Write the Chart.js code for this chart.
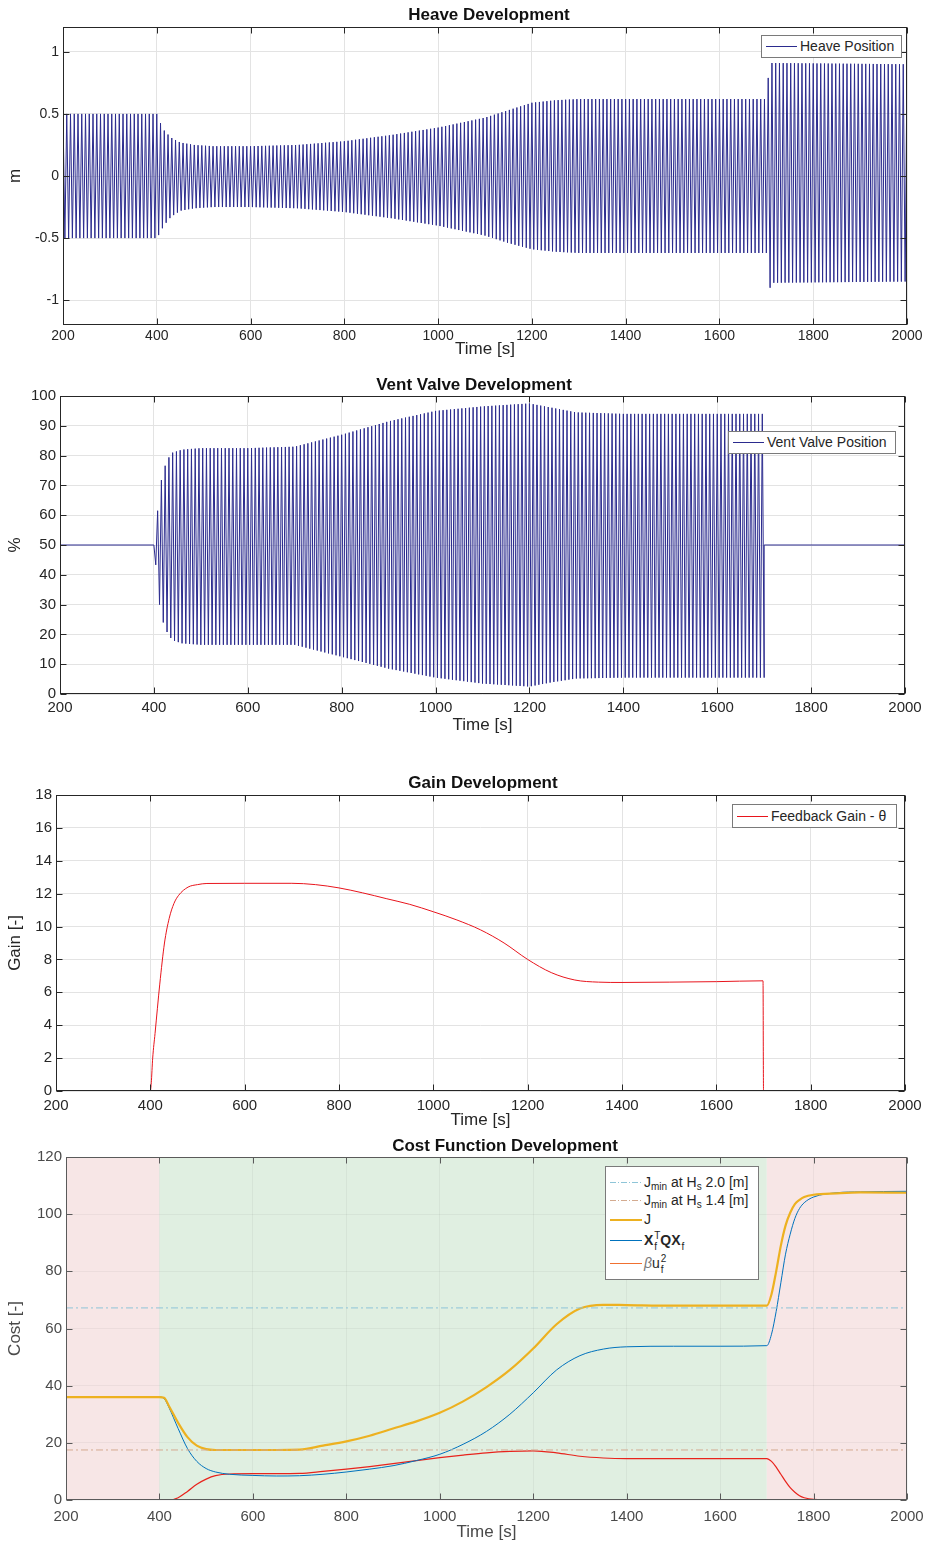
<!DOCTYPE html>
<html>
<head>
<meta charset="utf-8">
<script src="https://cdn.jsdelivr.net/npm/chart.js@4.4.1/dist/chart.umd.min.js"></script>
<style>
  body { margin: 0; background: #fff; width: 926px; height: 1545px; position: relative; overflow: hidden;
         font-family: "Liberation Sans", Arial, sans-serif; }
  canvas { position: absolute; left: 0; }
  .legend { position: absolute; background: #fff; border: 1px solid #7a7a7a; font-size: 14px; color: #262626; }
  .legend .row { position: absolute; left: 0; right: 0; height: 20px; }
  .legend .sample { position: absolute; top: 10px; height: 0; }
  .legend .dd { position: absolute; top: 10px; height: 1px; }
  .legend .txt { position: absolute; top: 1px; white-space: nowrap; line-height: 18px; }
  .legend sub.s { font-size: 10px; vertical-align: -3px; line-height: 0; }
  .ss { display: inline-block; position: relative; width: 7px; height: 0; }
  .ss .up { position: absolute; left: 1px; bottom: 4px; font-size: 10px; line-height: 10px; }
  .ss .dn { position: absolute; left: 1px; top: -3px; font-size: 10px; line-height: 10px; }
</style>
</head>
<body>
<canvas id="heave" width="926" height="360" style="top:0"></canvas>
<canvas id="vent" width="926" height="375" style="top:365px"></canvas>
<canvas id="gain" width="926" height="375" style="top:760px"></canvas>
<canvas id="cost" width="926" height="410" style="top:1135px"></canvas>

<div class="legend" style="left:761px;top:35px;width:139px;height:21px">
  <div class="row" style="top:0"><div class="sample" style="left:4px;width:31px;border-top:1px solid #2b2b8e"></div>
  <div class="txt" style="left:38px">Heave Position</div></div>
</div>
<div class="legend" style="left:728px;top:431px;width:166px;height:21px">
  <div class="row" style="top:0"><div class="sample" style="left:4px;width:31px;border-top:1px solid #2b2b8e"></div>
  <div class="txt" style="left:38px">Vent Valve Position</div></div>
</div>
<div class="legend" style="left:732px;top:804px;width:163px;height:22px">
  <div class="row" style="top:1px"><div class="sample" style="left:4px;width:31px;border-top:1px solid #e8141c"></div>
  <div class="txt" style="left:38px">Feedback Gain - θ</div></div>
</div>
<div class="legend" style="left:605px;top:1166px;width:152px;height:112px">
  <div class="row" style="top:5px"><div class="dd" style="left:4px;width:32px;background:repeating-linear-gradient(90deg,#8ec5d8 0 6px,transparent 6px 8px,#8ec5d8 8px 9px,transparent 9px 11px)"></div>
    <div class="txt" style="left:38px">J<sub class="s">min</sub> at H<sub class="s">s</sub> 2.0 [m]</div></div>
  <div class="row" style="top:23px"><div class="dd" style="left:4px;width:32px;background:repeating-linear-gradient(90deg,#d4ab90 0 6px,transparent 6px 8px,#d4ab90 8px 9px,transparent 9px 11px)"></div>
    <div class="txt" style="left:38px">J<sub class="s">min</sub> at H<sub class="s">s</sub> 1.4 [m]</div></div>
  <div class="row" style="top:42px"><div class="sample" style="left:4px;width:32px;border-top:2px solid #edb120"></div>
    <div class="txt" style="left:38px">J</div></div>
  <div class="row" style="top:63px"><div class="sample" style="left:4px;width:32px;border-top:1px solid #0072bd"></div>
    <div class="txt" style="left:38px"><b>X</b><span class="ss"><span class="up">T</span><span class="dn">f</span></span><b>QX</b><span class="ss"><span class="dn">f</span></span></div></div>
  <div class="row" style="top:86px"><div class="sample" style="left:4px;width:32px;border-top:1px solid #f07030"></div>
    <div class="txt" style="left:38px"><i style="color:#777">β</i>u<span class="ss"><span class="up">2</span><span class="dn">f</span></span></div></div>
</div>

<script>
// ---- data ----
const timeTicks = [200, 400, 600, 800, 1000, 1200, 1400, 1600, 1800, 2000];
const heaveTicks = [-1, -0.5, 0, 0.5, 1];
const ventTicks = [0, 10, 20, 30, 40, 50, 60, 70, 80, 90, 100];
const gainTicks = [0, 2, 4, 6, 8, 10, 12, 14, 16, 18];
const costTicks = [0, 20, 40, 60, 80, 100, 120];

// heave: wave period and its envelope (peaks / troughs)
const wavePeriod = 8;
const heaveEnvTime = [200, 400, 405, 415, 430, 450, 480, 520, 600, 700, 800, 900, 1000, 1100, 1150, 1200, 1250, 1300, 1400, 1700, 1702, 1706, 1712, 2000];
const heaveUpper = [0.5, 0.5, 0.45, 0.37, 0.31, 0.27, 0.25, 0.24, 0.24, 0.25, 0.28, 0.33, 0.39, 0.47, 0.53, 0.59, 0.61, 0.62, 0.62, 0.62, 0.62, 0.96, 0.91, 0.9];
const heaveLower = [-0.5, -0.5, -0.47, -0.4, -0.33, -0.28, -0.26, -0.25, -0.25, -0.26, -0.29, -0.34, -0.4, -0.48, -0.54, -0.59, -0.61, -0.62, -0.62, -0.62, -0.95, -0.92, -0.86, -0.85];

// vent valve: envelope while active (400 - 1700), 50 % otherwise
const ventEnvTime = [400, 401, 403, 406, 410, 415, 420, 430, 440, 460, 500, 600, 700, 800, 900, 1000, 1100, 1200, 1250, 1300, 1400, 1700];
const ventUpper = [50, 51, 53, 58, 65, 71, 75, 79, 81, 82, 82.5, 82.5, 83, 87, 91.5, 95, 96.5, 97.5, 96, 94.5, 94, 94];
const ventLower = [50, 48, 45, 40, 32, 27, 24, 20, 18, 17, 16.5, 16.5, 16.5, 12.5, 8.5, 5.5, 3.5, 2.5, 4, 5.2, 5.5, 5.5];
const ventRest = 50;

const gainTime = [200, 400, 402, 405, 410, 420, 430, 440, 450, 460, 480, 500, 520, 600, 700, 750, 800, 850, 900, 950, 1000, 1050, 1100, 1150, 1200, 1250, 1300, 1350, 1400, 1500, 1600, 1699, 1700, 2000];
const gainVals = [0, 0, 0.5, 2, 3.5, 6.5, 9, 10.5, 11.4, 11.9, 12.4, 12.55, 12.62, 12.63, 12.63, 12.55, 12.35, 12.05, 11.7, 11.35, 10.9, 10.4, 9.8, 9.0, 8.0, 7.2, 6.75, 6.62, 6.6, 6.62, 6.65, 6.7, 0, 0];

const costTime = [200, 400, 410, 420, 440, 460, 480, 500, 520, 550, 600, 650, 700, 750, 800, 850, 900, 950, 1000, 1050, 1100, 1150, 1200, 1250, 1300, 1350, 1400, 1500, 1600, 1700, 1710, 1720, 1730, 1740, 1750, 1760, 1770, 1780, 1800, 1850, 1900, 2000];
const costJ = [36, 36, 35.8, 33, 27, 22, 19, 17.8, 17.5, 17.5, 17.5, 17.5, 17.6, 19, 20.5, 22.5, 25, 27.5, 30.5, 34.5, 39.5, 45.5, 53, 61.5, 67, 68.3, 68.2, 68, 68, 68, 72, 80, 89, 96, 100.5, 103.5, 105, 106, 106.8, 107.3, 107.6, 107.5];
const costXQX = [36, 36, 35.5, 32.5, 25, 18, 13.5, 11, 9.8, 9, 8.6, 8.4, 8.5, 9, 9.8, 10.8, 12, 13.8, 16, 19.5, 24, 30, 37.5, 45.5, 50.5, 52.8, 53.6, 53.8, 53.8, 54, 58, 66, 76, 86, 93, 98.5, 102, 104, 106, 107.5, 107.8, 108];
const costBU = [0, 0, 0, 0, 0.8, 3, 5.5, 7.3, 8.5, 9.1, 9.2, 9.2, 9.3, 10, 10.8, 11.7, 12.7, 13.8, 14.8, 15.7, 16.5, 17, 17.2, 16.5, 15.3, 14.7, 14.5, 14.5, 14.5, 14.5, 13.5, 11.5, 9, 6.5, 4.3, 2.7, 1.5, 0.8, 0.2, 0, 0, 0];
const jminHs20 = 67.2;
const jminHs14 = 17.5;

const bandFrom = [200, 400, 1700];
const bandTo = [400, 1700, 2000];
const bandColor = ['#f7e6e6', '#e0efe1', '#f7e6e6'];

// ---- helpers ----
function envAt(times, vals, t) {
  if (t <= times[0]) return vals[0];
  for (let i = 1; i < times.length; i++) {
    if (t <= times[i]) {
      const f = (t - times[i - 1]) / (times[i] - times[i - 1]);
      return vals[i - 1] + f * (vals[i] - vals[i - 1]);
    }
  }
  return vals[vals.length - 1];
}
function wave(times, upper, lower, t0, t1) {
  const pts = [];
  let k = 0;
  for (let t = t0; t <= t1 + 1e-9; t += wavePeriod / 2, k++) {
    pts.push({ x: t, y: envAt(times, k % 2 === 0 ? upper : lower, t) });
  }
  return pts;
}
const zip = (xs, ys) => xs.map((x, i) => ({ x: x, y: ys[i] }));

const heavePts = wave(heaveEnvTime, heaveUpper, heaveLower, 200, 2000);
const ventPts = [{ x: 200, y: ventRest }].concat(wave(ventEnvTime, ventUpper, ventLower, 400, 1700), [{ x: 1700, y: ventRest }, { x: 2000, y: ventRest }]);

const FONT = '"Liberation Sans", Arial, sans-serif';

// box, inner ticks, title and background bands, MATLAB style
const frame = {
  id: 'frame',
  beforeDraw(chart, args, o) {
    if (!o.bands) return;
    const { ctx, chartArea: a, scales: { x } } = chart;
    o.bands.forEach(b => {
      const x0 = x.getPixelForValue(b.from), x1 = x.getPixelForValue(b.to);
      ctx.fillStyle = b.color;
      ctx.fillRect(x0, a.top, x1 - x0, a.bottom - a.top);
    });
  },
  afterDraw(chart, args, o) {
    const { ctx, chartArea: a, scales: { x, y } } = chart;
    ctx.save();
    ctx.strokeStyle = o.boxColor || '#262626';
    ctx.lineWidth = 1;
    const L = Math.round(a.left) + 0.5, R = Math.round(a.right) - 0.5;
    const T = Math.round(a.top) + 0.5, B = Math.round(a.bottom) - 0.5;
    ctx.strokeRect(L, T, R - L, B - T);
    const len = 6;
    ctx.beginPath();
    x.ticks.forEach(t => {
      const px = Math.round(x.getPixelForValue(t.value)) + 0.5;
      ctx.moveTo(px, B); ctx.lineTo(px, B - len);
      ctx.moveTo(px, T); ctx.lineTo(px, T + len);
    });
    y.ticks.forEach(t => {
      const py = Math.round(y.getPixelForValue(t.value)) + 0.5;
      ctx.moveTo(L, py); ctx.lineTo(L + len, py);
      ctx.moveTo(R, py); ctx.lineTo(R - len, py);
    });
    ctx.stroke();
    ctx.fillStyle = '#111';
    ctx.font = 'bold 17px ' + FONT;
    ctx.textAlign = 'center';
    ctx.textBaseline = 'middle';
    ctx.fillText(o.title, o.titleX, a.top - o.titleGap);
    ctx.restore();
  }
};
Chart.register(frame);

const plain = v => String(v);

function makeChart(id, cfg) {
  const tickColor = cfg.textColor || '#262626';
  return new Chart(document.getElementById(id), {
    type: 'line',
    data: { datasets: cfg.datasets },
    options: {
      responsive: false,
      animation: false,
      parsing: false,
      normalized: true,
      layout: { padding: { top: cfg.top, right: cfg.right, left: 0, bottom: 0 } },
      plugins: {
        legend: { display: false },
        tooltip: { enabled: false },
        frame: { title: cfg.title, titleX: cfg.titleX, titleGap: cfg.titleGap, bands: cfg.bands, boxColor: cfg.boxColor }
      },
      elements: { point: { radius: 0 }, line: { tension: 0 } },
      scales: {
        x: {
          type: 'linear', min: 200, max: 2000,
          afterBuildTicks: s => { s.ticks = timeTicks.map(v => ({ value: v })); },
          afterFit: s => { s.height = cfg.xHeight; s.paddingLeft = 0; s.paddingRight = 0; },
          grid: { color: cfg.gridColor || '#e3e3e3', drawTicks: false },
          border: { display: false },
          ticks: { color: tickColor, font: { family: FONT, size: cfg.tickSize }, padding: cfg.xPad, maxRotation: 0, callback: plain },
          title: { display: true, text: 'Time [s]', color: tickColor, font: { family: FONT, size: cfg.labelSize }, padding: { top: 0, bottom: cfg.xTitlePad } }
        },
        y: {
          min: cfg.yMin, max: cfg.yMax,
          afterBuildTicks: s => { s.ticks = cfg.yTicks.map(v => ({ value: v })); },
          afterFit: s => { s.width = cfg.left; s.paddingTop = 0; s.paddingBottom = 0; },
          grid: { color: cfg.gridColor || '#e3e3e3', drawTicks: false },
          border: { display: false },
          ticks: { color: tickColor, font: { family: FONT, size: cfg.tickSize }, padding: 4, callback: plain },
          title: { display: true, text: cfg.yLabel, color: tickColor, font: { family: FONT, size: cfg.labelSize }, padding: { top: 5, bottom: 0 } }
        }
      }
    }
  });
}

makeChart('heave', {
  title: 'Heave Development', titleX: 489, titleGap: 12,
  top: 27, right: 19, left: 63, xHeight: 35, xPad: 3, xTitlePad: 0,
  tickSize: 14, labelSize: 17,
  yMin: -1.2, yMax: 1.2, yTicks: heaveTicks, yLabel: 'm',
  datasets: [{ label: 'Heave Position', data: heavePts, borderColor: '#2b2b8e', borderWidth: 1 }]
});

makeChart('vent', {
  title: 'Vent Valve Development', titleX: 474, titleGap: 11,
  top: 31, right: 21, left: 60, xHeight: 46, xPad: 5, xTitlePad: 4,
  tickSize: 15, labelSize: 17,
  yMin: 0, yMax: 100, yTicks: ventTicks, yLabel: '%',
  datasets: [{ label: 'Vent Valve Position', data: ventPts, borderColor: '#2b2b8e', borderWidth: 1 }]
});

makeChart('gain', {
  title: 'Gain Development', titleX: 483, titleGap: 12,
  top: 35, right: 21, left: 56, xHeight: 44, xPad: 6, xTitlePad: 4,
  tickSize: 15, labelSize: 17,
  yMin: 0, yMax: 18, yTicks: gainTicks, yLabel: 'Gain [-]',
  datasets: [{ label: 'Feedback Gain - θ', data: zip(gainTime, gainVals), borderColor: '#e8141c', borderWidth: 1, cubicInterpolationMode: 'monotone' }]
});

makeChart('cost', {
  title: 'Cost Function Development', titleX: 505, titleGap: 11,
  top: 22, right: 19, left: 66, xHeight: 45, xPad: 8, xTitlePad: 2,
  tickSize: 15, labelSize: 17, textColor: '#4a4a4a', boxColor: '#5a5a5a', gridColor: 'rgba(0,0,0,0.045)',
  yMin: 0, yMax: 120, yTicks: costTicks, yLabel: 'Cost [-]',
  bands: bandFrom.map((f, i) => ({ from: f, to: bandTo[i], color: bandColor[i] })),
  datasets: [
    { label: 'Jmin at Hs 2.0 [m]', data: [{ x: 200, y: jminHs20 }, { x: 2000, y: jminHs20 }], borderColor: '#8ec5d8', borderWidth: 1, borderDash: [7, 3, 2, 3] },
    { label: 'Jmin at Hs 1.4 [m]', data: [{ x: 200, y: jminHs14 }, { x: 2000, y: jminHs14 }], borderColor: '#d4ab90', borderWidth: 1, borderDash: [7, 3, 2, 3] },
    { label: 'J', data: zip(costTime, costJ), borderColor: '#edb120', borderWidth: 2.2, cubicInterpolationMode: 'monotone' },
    { label: 'XfTQXf', data: zip(costTime, costXQX), borderColor: '#0072bd', borderWidth: 1, cubicInterpolationMode: 'monotone' },
    { label: 'βuf2', data: zip(costTime, costBU), borderColor: '#e8231c', borderWidth: 1.2, cubicInterpolationMode: 'monotone' }
  ]
});
</script>
</body>
</html>
